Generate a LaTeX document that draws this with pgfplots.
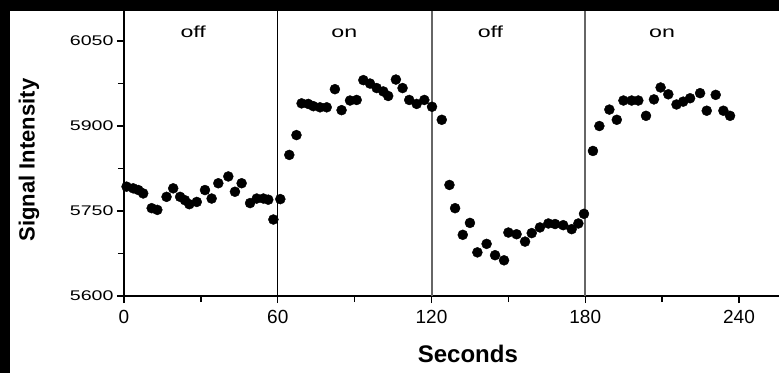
\documentclass[border=0pt]{standalone}
\usepackage{pgfplots}
\pgfplotsset{compat=1.18}
\usepackage{fontspec}
\setmainfont{Liberation Sans}
\begin{document}
\begin{tikzpicture}[x=1pt,y=1pt]
\useasboundingbox (0,0) rectangle (779,373);
\fill[white] (0,0) rectangle (779,373);
\begin{axis}[
 at={(124pt,77pt)}, anchor=south west, scale only axis,
 width=655pt, height=285pt,
 xmin=0, xmax=255.6, ymin=5600, ymax=6103,
 axis x line=bottom, axis y line=left,
 axis line style={line width=1.6pt, -},
 xtick={0,60,120,180,240}, ytick={5600,5750,5900,6050},
 minor x tick num=1, minor y tick num=1,
 tick align=outside,
 major tick length=7pt, minor tick length=6pt,
 tick style={line width=1.4pt, black},
 /pgf/number format/assume math mode=true,
 /pgf/number format/1000 sep={},
 xticklabel style={font=\fontsize{19}{20}\selectfont, yshift=-4pt},
 yticklabel style={font=\fontsize{14}{15}\selectfont},
 yticklabel={\scalebox{1.4}[1]{\pgfmathprintnumber{\tick}}},
 xlabel={Seconds},
 ylabel={Signal Intensity},
 xlabel style={font=\bfseries\fontsize{24}{26}\selectfont, at={(rel axis cs:0.525,-0.2035)}, anchor=center},
 ylabel style={font=\bfseries\fontsize{22}{24}\selectfont, at={(rel axis cs:-0.145,0.477)}, anchor=center},
 clip=false,
]
\addplot[only marks, mark=*, mark size=5pt, black] coordinates {
(1.0,5793) (3.6,5790) (5.6,5787) (7.5,5781) (10.8,5755) (13.0,5752)
(16.6,5775) (19.2,5790) (21.9,5775) (23.8,5769) (25.5,5762) (28.4,5766)
(31.6,5787) (34.2,5772) (36.8,5799) (40.7,5811) (43.3,5784) (45.9,5799)
(49.2,5764) (51.8,5772) (54.4,5772) (56.3,5770) (58.3,5735) (61.0,5771)
(64.5,5849) (67.3,5884) (69.3,5940) (71.9,5939) (73.9,5935) (76.5,5933)
(79.1,5933) (82.3,5965) (84.9,5928) (88.2,5945) (90.8,5946) (93.4,5981)
(96.0,5975) (98.6,5967) (101.2,5961) (103.1,5953) (106.1,5982) (108.7,5967)
(111.3,5946) (114.2,5939) (117.2,5946) (120.2,5934) (124.0,5911) (127.0,5796)
(129.2,5755) (132.2,5708) (135.0,5729) (137.9,5677) (141.5,5692) (144.8,5672)
(148.3,5663) (150.0,5712) (153.2,5709) (156.5,5696) (159.1,5711) (162.3,5721)
(165.6,5728) (168.2,5727) (171.4,5725) (174.7,5718) (177.3,5728) (179.5,5745)
(183.0,5856) (185.5,5900) (189.4,5929) (192.3,5911) (194.9,5945) (198.1,5945)
(200.7,5945) (203.7,5918) (206.8,5947) (209.4,5968) (212.4,5956) (215.6,5938)
(218.2,5943) (220.9,5949) (224.8,5958) (227.4,5927) (230.9,5955) (233.9,5927)
(236.5,5918)
};
\draw[black, line width=1.4pt] (axis cs:60,5600) -- (axis cs:60,6103);
\draw[black!60, line width=2pt] (axis cs:120,5600) -- (axis cs:120,6103);
\draw[black!60, line width=2pt] (axis cs:180,5600) -- (axis cs:180,6103);
\node[anchor=base, font=\fontsize{16}{18}\selectfont] at (axis cs:27,6057) {\scalebox{1.45}[1]{off}};
\node[anchor=base, font=\fontsize{16}{18}\selectfont] at (axis cs:86,6057) {\scalebox{1.45}[1]{on}};
\node[anchor=base, font=\fontsize{16}{18}\selectfont] at (axis cs:143,6057) {\scalebox{1.45}[1]{off}};
\node[anchor=base, font=\fontsize{16}{18}\selectfont] at (axis cs:210,6057) {\scalebox{1.45}[1]{on}};
\end{axis}
\fill[black] (0,362) rectangle (779,373);
\fill[black] (0,0) rectangle (10,373);
\end{tikzpicture}
\end{document}
